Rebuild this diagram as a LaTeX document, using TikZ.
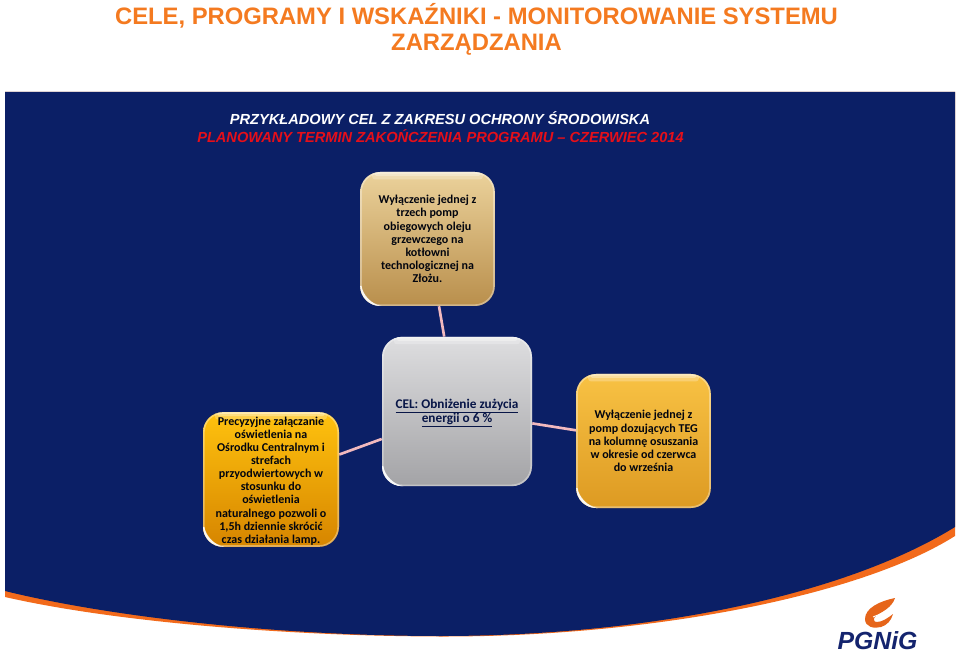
\documentclass[tikz,border=0pt]{standalone}
\usepackage{fontspec}
\setmainfont{Liberation Sans}
\newfontfamily\boxfont{Carlito}[BoldFont={Carlito Bold}]
\usetikzlibrary{shadings}
\definecolor{navy}{HTML}{0B1F66}
\definecolor{pgorange}{HTML}{F26A1B}
\definecolor{titleor}{HTML}{F47A20}
\definecolor{redtxt}{HTML}{E60F19}
\definecolor{linkpink}{HTML}{F2B9BE}
\definecolor{logonavy}{HTML}{14246E}
\definecolor{tA}{HTML}{EBD29B}\definecolor{tB}{HTML}{B98F4C}
\definecolor{cA}{HTML}{DEDEE0}\definecolor{cB}{HTML}{A3A3A6}
\definecolor{lA}{HTML}{FFC20E}\definecolor{lB}{HTML}{D68500}
\definecolor{rA}{HTML}{F8C244}\definecolor{rB}{HTML}{DD9A22}
\tikzset{
  x=0.75pt,y=-0.75pt,
  gloss/.style={path picture={
    \draw[sharp corners,white,opacity=.35,line width=2.5pt,rounded corners=15pt]
      (path picture bounding box.north west) rectangle (path picture bounding box.south east);
    \fill[sharp corners,white,opacity=.3,rounded corners=1.5pt]
      ([xshift=11pt]path picture bounding box.north west) rectangle ([xshift=-11pt,yshift=-3pt]path picture bounding box.north east);
    \fill[sharp corners,white,opacity=.25,rounded corners=2pt]
      ([xshift=9pt]path picture bounding box.north west) rectangle ([xshift=-9pt,yshift=-5.5pt]path picture bounding box.north east);
    \fill[sharp corners,white,opacity=.9]
      ([yshift=15pt]path picture bounding box.south west)
      -- (path picture bounding box.south west)
      -- ([xshift=16pt]path picture bounding box.south west)
      .. controls +(-7pt,1pt) and +(1pt,-7pt) .. ([xshift=1pt,yshift=15pt]path picture bounding box.south west) -- cycle;
  }},
  mapbox/.style={rounded corners=15pt,inner sep=0pt,align=center,text=black!85!navy,
    font=\boxfont\bfseries\fontsize{9pt}{9.85pt}\selectfont,gloss},
  celtext/.style={text=navy!70!black,font=\boxfont\bfseries\fontsize{9.95pt}{10.6pt}\selectfont},
  link/.style={draw=linkpink,line width=2pt},
  titletext/.style={font=\bfseries\fontsize{17.85pt}{19.6pt}\selectfont,text=titleor,inner sep=0pt,align=center},
  subtext/.style={font=\bfseries\itshape\fontsize{10.95pt}{12pt}\selectfont,inner sep=0pt},
}
\begin{document}
\begin{tikzpicture}
\useasboundingbox (0,0) rectangle (959,655);
\fill[white] (0,0) rectangle (959,655);
% background band
\fill[pgorange] (5,92) -- (955,92) -- (955,536)
  .. controls (860,596) and (650,637) .. (440,636.5)
  .. controls (280,636) and (110,621) .. (5,597) -- cycle;
\fill[navy] (5,92) -- (955,92) -- (955,527)
  .. controls (845,595) and (650,636) .. (440,636)
  .. controls (280,636) and (110,617) .. (5,591) -- cycle;
% titles
\node[titletext] (title) at (476.5,29.5) {CELE, PROGRAMY I WSKAŹNIKI - MONITOROWANIE SYSTEMU\\ZARZĄDZANIA};
\node[subtext,text=white] (sub1) at (440,118) {PRZYKŁADOWY CEL Z ZAKRESU OCHRONY ŚRODOWISKA};
\node[subtext,text=redtxt] (sub2) at (440.5,136) {PLANOWANY TERMIN ZAKOŃCZENIA PROGRAMU – CZERWIEC 2014};
% boxes
\node[mapbox,minimum width=101pt,minimum height=100.5pt,top color=tA,bottom color=tB] (top) at (427.5,239)
  {Wyłączenie jednej z\\trzech pomp\\obiegowych oleju\\grzewczego na\\kotłowni\\technologicznej na\\Złożu.};
\node[mapbox,celtext,minimum width=112.5pt,minimum height=112pt,top color=cA,bottom color=cB] (cel) at (457,411.5)
  {\rule{0pt}{9.5pt}\underline{CEL: Obniżenie zużycia}\\\underline{energii o 6 \%}};
\node[mapbox,minimum width=102pt,minimum height=101pt,top color=lA,bottom color=lB] (left) at (271,479.5)
  {\rule{0pt}{8.5pt}Precyzyjne załączanie\\oświetlenia  na\\Ośrodku Centralnym i\\strefach\\przyodwiertowych w\\stosunku do\\oświetlenia\\naturalnego pozwoli o\\1,5h dziennie skrócić\\czas działania lamp.};
\node[mapbox,minimum width=101pt,minimum height=100.5pt,top color=rA,bottom color=rB] (right) at (643.5,441)
  {Wyłączenie jednej z\\pomp dozujących TEG\\na kolumnę osuszania\\w okresie od czerwca\\do września};
% connectors
\draw[link] (top) -- (cel);
\draw[link] (left) -- (cel);
\draw[link] (right) -- (cel);
% logo
\fill[pgorange!95!black] (895,598)
  .. controls (880,601) and (865,608) .. (865,619)
  .. controls (865,627) and (874,629) .. (881,627)
  .. controls (887,625) and (891,621) .. (893,614)
  .. controls (888,618) and (882,622) .. (877,622)
  .. controls (873,622) and (873,618) .. (876,616)
  .. controls (881,612) and (892,608) .. (895,598) -- cycle;
\draw[white,line width=.7pt] (873,617) .. controls (880,614) and (887,612) .. (894,606);
\draw[white,line width=.7pt] (875,621) .. controls (881,620) and (886,618) .. (893,612);
\node[inner sep=0pt,text=logonavy,font=\bfseries\itshape\fontsize{18.6pt}{20pt}\selectfont] (logo) at (877.5,641) {PGNiG};
\end{tikzpicture}
\end{document}
